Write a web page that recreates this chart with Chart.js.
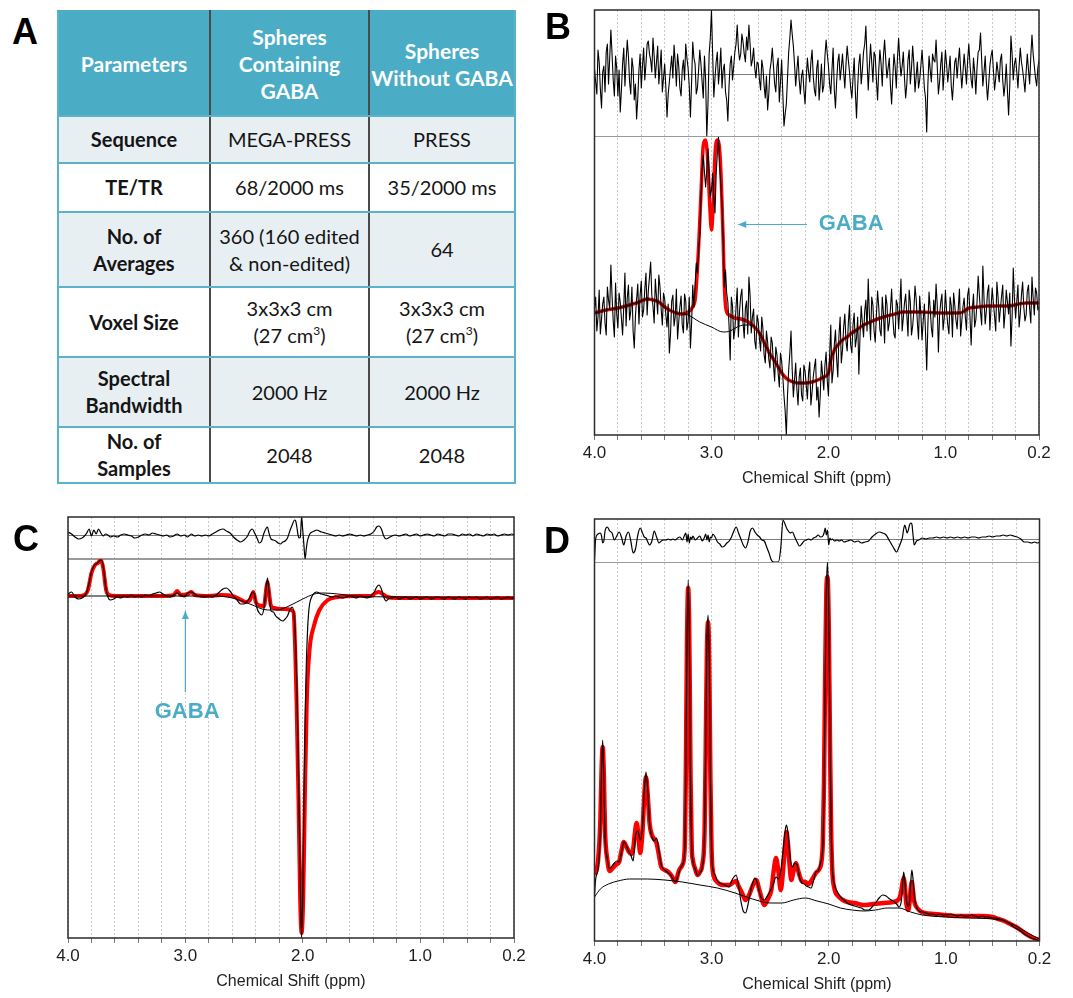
<!DOCTYPE html>
<html>
<head>
<meta charset="utf-8">
<title>GABA phantom spectra</title>
<script src="https://cdn.jsdelivr.net/npm/chart.js@4.4.1/dist/chart.umd.min.js"></script>
<style>
  body { margin: 0; width: 1073px; height: 998px; background: #fff; position: relative; overflow: hidden; }
  canvas { position: absolute; }
  .panel-lbl { position: absolute; z-index: 3; font: bold 36px "Liberation Sans", Arial, sans-serif; line-height: 36px; color: #000; }
  table.params { position: absolute; left: 57px; top: 10px; width: 457px; border-collapse: collapse; table-layout: fixed;
    font-family: Lato, "Open Sans", sans-serif; font-size: 20px; line-height: 27px; text-align: center; color: #151515; }
  .params th, .params td { border: 2px solid #5ab3cb; padding: 0; vertical-align: middle; }
  .params tr > *:nth-child(1), .params tr > *:nth-child(2) { border-right-color: #4a4a4a; }
  .params tr.head th { background: #4bacc6; color: #fff; white-space: nowrap; border-top-color: #4bacc6; font-size: 21px; }
  .params tr.shade th, .params tr.shade td { background: #e8eff3; }
  .params td { font-weight: normal; }
  .params sup { font-size: 12px; line-height: 0; vertical-align: 8px; }
</style>
</head>
<body>
<div class="panel-lbl" style="left:12px;top:14px">A</div>
<div class="panel-lbl" style="left:545px;top:9px">B</div>
<div class="panel-lbl" style="left:13px;top:521px">C</div>
<div class="panel-lbl" style="left:544px;top:523px">D</div>

<table class="params">
  <colgroup><col style="width:152px"><col style="width:159px"><col style="width:146px"></colgroup>
  <tr class="head" style="height:105px"><th>Parameters</th><th>Spheres<br>Containing<br>GABA</th><th>Spheres<br>Without GABA</th></tr>
  <tr class="shade" style="height:47px"><th>Sequence</th><td>MEGA-PRESS</td><td>PRESS</td></tr>
  <tr style="height:49px"><th>TE/TR</th><td>68/2000 ms</td><td>35/2000 ms</td></tr>
  <tr class="shade" style="height:75px"><th>No. of<br>Averages</th><td>360 (160 edited<br>&amp; non-edited)</td><td>64</td></tr>
  <tr style="height:70px"><th>Voxel Size</th><td>3x3x3 cm<br>(27 cm<sup>3</sup>)</td><td>3x3x3 cm<br>(27 cm<sup>3</sup>)</td></tr>
  <tr class="shade" style="height:70px"><th>Spectral<br>Bandwidth</th><td>2000 Hz</td><td>2000 Hz</td></tr>
  <tr style="height:56px"><th>No. of<br>Samples</th><td>2048</td><td>2048</td></tr>
</table>

<canvas id="chartB" width="543" height="490" style="left:530px;top:0px"></canvas>
<canvas id="chartC" width="530" height="498" style="left:0px;top:495px"></canvas>
<canvas id="chartD" width="543" height="501" style="left:530px;top:495px"></canvas>

<script>
// ---- B: edited spectrum, spheres containing GABA (MEGA-PRESS difference) ----
const bPpm = [
  4.00,3.99,3.98,3.97,3.96,3.95,3.94,3.93,3.92,3.91,3.90,3.89,3.88,3.87,3.86,3.85,3.84,3.83,3.82,3.81,
  3.80,3.79,3.78,3.77,3.76,3.75,3.74,3.73,3.72,3.71,3.70,3.69,3.68,3.67,3.66,3.65,3.64,3.63,3.62,3.61,
  3.60,3.59,3.58,3.57,3.56,3.55,3.54,3.53,3.52,3.51,3.50,3.49,3.48,3.47,3.46,3.45,3.44,3.43,3.42,3.41,
  3.40,3.39,3.38,3.37,3.36,3.35,3.34,3.33,3.32,3.31,3.30,3.29,3.28,3.27,3.26,3.25,3.24,3.23,3.22,3.21,
  3.20,3.19,3.18,3.17,3.16,3.15,3.14,3.13,3.12,3.11,3.10,3.09,3.08,3.07,3.06,3.05,3.04,3.03,3.02,3.01,
  3.00,2.99,2.98,2.97,2.96,2.95,2.94,2.93,2.92,2.91,2.90,2.89,2.88,2.87,2.86,2.85,2.84,2.83,2.82,2.81,
  2.80,2.79,2.78,2.77,2.76,2.75,2.74,2.73,2.72,2.71,2.70,2.69,2.68,2.67,2.66,2.65,2.64,2.63,2.62,2.61,
  2.60,2.59,2.58,2.57,2.56,2.55,2.54,2.53,2.52,2.51,2.50,2.49,2.48,2.47,2.46,2.45,2.44,2.43,2.42,2.41,
  2.40,2.39,2.38,2.37,2.36,2.35,2.34,2.33,2.32,2.31,2.30,2.29,2.28,2.27,2.26,2.25,2.24,2.23,2.22,2.21,
  2.20,2.19,2.18,2.17,2.16,2.15,2.14,2.13,2.12,2.11,2.10,2.09,2.08,2.07,2.06,2.05,2.04,2.03,2.02,2.01,
  2.00,1.99,1.98,1.97,1.96,1.95,1.94,1.93,1.92,1.91,1.90,1.89,1.88,1.87,1.86,1.85,1.84,1.83,1.82,1.81,
  1.80,1.79,1.78,1.77,1.76,1.75,1.74,1.73,1.72,1.71,1.70,1.69,1.68,1.67,1.66,1.65,1.64,1.63,1.62,1.61,
  1.60,1.59,1.58,1.57,1.56,1.55,1.54,1.53,1.52,1.51,1.50,1.49,1.48,1.47,1.46,1.45,1.44,1.43,1.42,1.41,
  1.40,1.39,1.38,1.37,1.36,1.35,1.34,1.33,1.32,1.31,1.30,1.29,1.28,1.27,1.26,1.25,1.24,1.23,1.22,1.21,
  1.20,1.19,1.18,1.17,1.16,1.15,1.14,1.13,1.12,1.11,1.10,1.09,1.08,1.07,1.06,1.05,1.04,1.03,1.02,1.01,
  1.00,0.99,0.98,0.97,0.96,0.95,0.94,0.93,0.92,0.91,0.90,0.89,0.88,0.87,0.86,0.85,0.84,0.83,0.82,0.81,
  0.80,0.79,0.78,0.77,0.76,0.75,0.74,0.73,0.72,0.71,0.70,0.69,0.68,0.67,0.66,0.65,0.64,0.63,0.62,0.61,
  0.60,0.59,0.58,0.57,0.56,0.55,0.54,0.53,0.52,0.51,0.50,0.49,0.48,0.47,0.46,0.45,0.44,0.43,0.42,0.41,
  0.40,0.39,0.38,0.37,0.36,0.35,0.34,0.33,0.32,0.31,0.30,0.29,0.28,0.27,0.26,0.25,0.24,0.23,0.22,0.21,
  0.20
];
const bData = [
  127,138,104,118,145,101,116,131,138,112,100,148,135,126,170,139,114,98,152,121,
  107,142,133,117,100,128,162,109,137,150,115,124,148,104,87,119,136,151,111,140,
  154,118,125,146,162,120,144,158,173,140,129,112,156,138,121,160,148,126,110,142,
  136,120,108,131,82,101,134,140,109,118,146,96,113,128,139,110,102,141,134,105,
  113,138,87,112,150,128,150,172,162,185,200,238,265,280,263,248,265,286,260,238,
  245,262,235,222,260,282,298,270,250,232,195,148,165,142,133,110,75,138,129,96,
  105,128,147,98,124,139,146,112,97,127,134,101,158,140,102,118,126,94,86,120,
  113,96,84,118,106,80,72,104,93,76,67,98,92,70,54,88,80,62,48,82,
  74,58,39,24,0,40,65,82,104,66,38,55,72,46,30,58,67,40,34,70,
  64,50,36,62,73,30,43,58,68,76,35,48,18,40,74,60,45,70,83,54,
  39,80,110,52,64,90,105,76,58,100,118,72,85,108,121,94,84,112,130,90,
  82,110,122,88,97,118,61,100,129,112,98,124,135,104,156,120,95,138,130,104,
  93,120,144,128,105,99,138,122,92,140,131,104,112,126,146,118,101,97,135,130,
  106,128,156,104,117,132,141,120,99,145,133,100,109,124,149,136,113,96,139,121,
  95,114,131,102,65,110,143,126,107,98,135,118,151,130,83,120,133,141,105,117,
  145,124,110,101,138,129,98,142,130,115,106,127,146,99,114,128,137,118,105,140,
  147,118,90,126,141,108,115,132,159,140,123,110,169,136,111,124,143,150,105,127,
  147,132,119,104,153,138,113,126,139,150,107,122,145,133,121,142,89,118,167,136,
  117,134,150,108,121,140,153,128,114,120,144,150,126,112,158,137,120,147,142,125,
  128
];
const bResid = [
  5,-8,-20,24,12,-15,-34,2,8,-18,22,30,-10,16,44,20,-6,-22,18,6,
  -22,4,-38,-16,10,26,-12,12,34,18,-8,-20,16,6,-26,-10,-45,-24,4,20,
  -14,8,26,-6,10,30,33,20,14,2,36,18,-4,12,28,-10,6,24,-18,-4,
  10,-14,-43,-20,-8,6,18,-4,29,12,-12,20,8,-14,-22,4,14,-6,30,16,
  6,-12,-43,-8,32,16,10,-20,-14,4,24,10,-8,-24,18,-6,-62,-30,20,36,
  64,20,-23,-4,12,22,-10,6,26,-14,4,10,-18,-26,-47,-12,10,18,-6,8,
  22,30,49,26,14,20,40,32,20,12,37,24,49,30,8,14,26,6,-4,12,
  10,-6,-16,14,6,-12,-24,-2,-36,-20,4,12,26,8,-10,-18,8,16,-28,-8,
  14,-20,-52,-40,-30,-4,22,36,54,40,28,10,-12,4,18,-6,-20,-2,4,-16,
  -30,-4,16,2,-8,12,24,-2,-16,-22,6,14,-26,-10,10,-18,-12,18,34,20,
  8,-10,-20,4,26,-16,-34,-8,12,20,-6,6,20,2,-14,10,28,14,2,-14,
  -24,-4,16,-18,-44,-12,10,20,-10,4,22,30,48,14,-16,8,30,12,-8,22,
  18,-6,-26,4,24,10,-12,18,34,14,-4,6,16,-12,-30,-4,20,8,-14,16,
  36,14,-2,8,22,-4,-24,-10,14,24,-10,6,28,10,-18,-2,12,-14,-6,8,
  24,6,-14,-24,-58,-10,18,4,-8,20,14,12,34,8,-20,-8,10,22,-16,2,
  24,10,-8,4,18,-12,-26,-6,12,16,-4,12,26,4,-14,2,20,6,-10,14,
  30,10,-6,-14,16,2,-20,6,22,24,41,14,-12,2,18,-8,-26,-10,8,18,
  24,4,-16,-4,12,2,-8,14,20,-6,-22,-10,10,-16,-41,-12,38,20,-6,10,
  16,2,-14,8,26,12,4,-6,-18,2,20,4,-10,18,39,20,8,-4,-12,6,
  14
];
const bFitPpm = [4.00,3.90,3.80,3.70,3.62,3.55,3.50,3.45,3.40,3.36,3.30,3.25,3.20,3.16,3.14,3.13,3.11,3.09,3.07,3.05,
  3.03,3.015,3.00,2.985,2.97,2.95,2.93,2.915,2.90,2.89,2.875,2.85,2.80,2.75,2.70,2.66,2.61,2.58,2.54,2.50,
  2.46,2.42,2.38,2.34,2.30,2.26,2.20,2.14,2.09,2.04,2.00,1.98,1.95,1.92,1.88,1.84,1.80,1.76,1.70,1.64,
  1.58,1.50,1.43,1.36,1.22,1.03,0.89,0.85,0.80,0.72,0.64,0.47,0.31,0.20];
const bFit = [122,125,127,130,133,136,135,133,128,125,122,121,123,128,135,148,188,240,290,295,
  270,230,205,230,280,295,285,250,195,150,125,120,117,116,114,111,105,100,90,81,
  74,66,59,55,53,52,52,53,55,58,62,75,85,90,95,98,102,105,110,113,
  116,119,121,123,123,122,122,123,127,128,129,129,132,132];
const bBasePpm = [4.00,3.90,3.80,3.70,3.62,3.55,3.50,3.45,3.40,3.36,3.30,3.25,3.20,3.10,3.00,2.90,2.84,2.78,2.72,2.66,
  2.61,2.58,2.54,2.50,2.46,2.42,2.38,2.34,2.30,2.26,2.20,2.14,2.09,2.04,2.00,1.98,1.95,1.92,1.88,1.84,
  1.80,1.76,1.70,1.64,1.58,1.50,1.43,1.36,1.22,1.03,0.89,0.85,0.80,0.72,0.64,0.47,0.31,0.20];
const bBase = [122,125,127,130,133,136,135,133,128,125,122,121,120,113,108,103,104,108,110,110,
  105,100,90,81,74,66,59,55,53,52,52,53,55,58,62,75,85,90,95,98,
  102,105,110,113,116,119,121,123,123,122,122,123,127,128,129,129,132,132];

// ---- C: edit-OFF spectrum, spheres containing GABA ----
const cPpm = [
  4.00,3.97,3.94,3.91,3.88,3.86,3.84,3.82,3.80,3.78,
  3.76,3.74,3.72,3.70,3.68,3.66,3.64,3.61,3.58,3.55,
  3.52,3.49,3.46,3.43,3.40,3.37,3.34,3.31,3.28,3.25,
  3.22,3.19,3.16,3.13,3.10,3.07,3.04,3.01,2.98,2.95,
  2.92,2.89,2.86,2.83,2.80,2.77,2.74,2.71,2.68,2.65,
  2.62,2.59,2.56,2.53,2.50,2.47,2.45,2.43,2.41,2.39,
  2.37,2.35,2.33,2.31,2.30,2.29,2.27,2.25,2.23,2.21,
  2.19,2.17,2.15,2.13,2.11,2.09,2.07,2.06,2.05,2.04,
  2.03,2.02,2.01,2.00,1.99,1.98,1.97,1.96,1.95,1.94,
  1.92,1.90,1.88,1.86,1.84,1.81,1.78,1.75,1.72,1.69,
  1.66,1.63,1.60,1.57,1.54,1.51,1.48,1.45,1.42,1.39,
  1.37,1.35,1.33,1.31,1.29,1.27,1.24,1.21,1.18,1.15,
  1.12,1.09,1.06,1.03,1.00,0.97,0.94,0.91,0.88,0.85,
  0.82,0.79,0.76,0.73,0.70,0.67,0.64,0.61,0.58,0.55,
  0.52,0.49,0.46,0.43,0.40,0.37,0.34,0.31,0.28,0.25,
  0.22,0.20
];
const cData = [
  344,346,341,339,340,342,346,355,366,372,
  374,376,378,372,352,341,338,339,341,340,
  342,341,343,341,342,341,343,342,344,345,
  346,344,342,341,343,345,343,341,345,346,
  344,342,341,341,342,341,343,346,349,350,
  347,342,338,334,334,337,341,346,343,330,
  325,323,330,352,360,350,327,326,322,320,
  318,317,319,322,328,331,318,290,250,190,
  120,50,0,40,130,215,270,305,325,335,
  342,345,346,345,344,343,342,341,342,341,
  340,341,342,341,340,342,341,340,342,346,
  351,353,349,341,337,339,340,341,339,340,
  341,339,340,341,339,340,341,339,340,341,
  340,339,341,340,339,341,340,339,341,340,
  341,339,340,341,339,340,341,339,340,341,
  340,340
];
const cResid = [
  3,1,-2,-4,-3,-1,2,6,-1,5,
  1,6,2,-1,1,0,-2,-1,-2,0,
  1,0,-1,-3,-2,0,1,0,2,1,
  0,-1,0,-2,-1,1,-1,0,-2,1,
  -1,0,-1,0,-1,1,3,5,6,4,
  2,-2,-5,-7,-5,-1,4,6,2,-3,
  -8,-6,2,7,8,3,-4,-5,-6,-8,
  -9,-7,-6,-3,4,10,15,14,8,0,
  -3,-2,18,5,-10,-24,-14,-6,-2,1,
  3,4,5,4,3,2,1,0,-1,0,
  -1,0,1,0,-1,0,-1,0,1,4,
  8,9,6,-1,-4,-3,-1,0,-1,0,
  1,-1,0,1,-1,0,1,0,-1,1,
  0,-1,1,1,0,-1,1,0,1,-1,
  1,0,-1,1,0,1,-1,0,1,0,
  1,0
];
const cFitPpm = [4.00,3.90,3.86,3.83,3.80,3.77,3.745,3.72,3.70,3.675,3.65,3.60,3.40,3.20,3.10,3.07,3.04,2.98,2.95,2.92,
  2.80,2.70,2.60,2.54,2.48,2.45,2.42,2.40,2.38,2.33,2.31,2.30,2.29,2.27,2.24,2.20,2.15,2.10,2.08,2.075,
  2.053,2.036,2.022,2.01,1.996,1.982,1.965,1.942,1.905,1.858,1.787,1.70,1.55,1.42,1.38,1.35,1.32,1.28,1.20,0.80,0.20];
const cFit = [342,342,343,348,365,373,375,378,370,348,343,342,342,342,343,347,343,344,346,343,
  342,343,342,339,336,338,346,336,333,332,350,356,348,332,330,329,329,328,326,322,
  238,138,38,5,38,138,238,288,312,328,338,341,342,342,345,346,344,341,340,340,340];
const cBasePpm = [4.00,3.00,2.75,2.60,2.45,2.30,2.22,2.10,2.00,1.90,1.82,1.70,1.55,1.20,0.20];
const cBase = [342,342,342,340,334,328,328,333,339,344,345,344,342,341,340];

// ---- D: PRESS spectrum, spheres without GABA ----
const dPpm = [
  4.00,3.99,3.97,3.95,3.94,3.93,3.92,3.91,3.89,3.87,
  3.85,3.83,3.81,3.79,3.77,3.75,3.73,3.71,3.69,3.67,
  3.65,3.63,3.61,3.59,3.575,3.56,3.545,3.53,3.51,3.49,
  3.47,3.45,3.43,3.41,3.39,3.37,3.35,3.33,3.31,3.29,
  3.27,3.25,3.23,3.22,3.21,3.20,3.19,3.18,3.17,3.16,
  3.14,3.12,3.10,3.08,3.06,3.05,3.04,3.03,3.02,3.01,
  3.00,2.99,2.97,2.95,2.93,2.91,2.89,2.87,2.85,2.83,
  2.81,2.79,2.77,2.75,2.73,2.71,2.69,2.67,2.65,2.63,
  2.61,2.59,2.57,2.55,2.53,2.51,2.49,2.47,2.45,2.43,
  2.41,2.39,2.37,2.36,2.35,2.33,2.31,2.29,2.27,2.25,
  2.23,2.21,2.19,2.17,2.15,2.13,2.11,2.09,2.07,2.05,
  2.04,2.03,2.02,2.01,2.00,1.99,1.98,1.97,1.95,1.93,
  1.91,1.89,1.87,1.84,1.81,1.78,1.75,1.72,1.69,1.66,
  1.63,1.60,1.57,1.54,1.51,1.48,1.45,1.42,1.40,1.38,
  1.37,1.36,1.35,1.34,1.33,1.32,1.31,1.30,1.29,1.28,
  1.27,1.25,1.23,1.20,1.17,1.14,1.11,1.08,1.05,1.02,
  0.99,0.96,0.93,0.90,0.87,0.84,0.81,0.78,0.75,0.72,
  0.69,0.66,0.63,0.60,0.57,0.54,0.51,0.48,0.45,0.42,
  0.39,0.36,0.33,0.30,0.27,0.24,0.22,0.20
];
const dData = [
  46,62,72,110,170,201,160,105,82,72,
  75,78,80,79,88,99,96,90,86,80,
  105,110,101,115,150,169,150,118,104,100,
  103,90,76,72,70,68,66,62,59,64,
  72,76,90,170,300,361,300,160,95,80,
  72,66,68,74,110,200,300,326,280,160,
  90,72,66,60,58,57,56,55,54,60,
  64,66,55,40,30,28,36,48,58,63,
  58,48,42,41,44,48,52,58,64,62,
  70,90,112,116,110,84,74,78,76,64,
  58,57,55,54,53,60,69,70,78,95,
  150,260,350,379,330,220,120,75,56,50,
  46,43,41,38,36,35,34,33,31,31,
  34,38,43,46,45,42,40,37,34,40,
  55,69,60,45,36,34,40,58,71,62,
  45,34,30,29,28,27,27,26,27,26,
  26,27,26,25,26,25,25,26,25,24,
  25,24,24,23,23,22,21,19,17,14,
  12,10,7,5,3,2,1,0
];
const dResid = [
  -21,0,5,6,3,-4,-2,8,12,8,
  6,-1,3,7,2,-6,3,7,-2,-14,
  -10,4,11,6,2,1,-3,-6,-2,8,
  2,-4,-2,-1,-1,0,-1,0,-1,1,
  2,-1,4,6,-3,5,-4,2,0,3,
  -1,1,3,-2,2,5,-1,4,-3,2,
  1,5,2,-3,-5,-8,-7,-4,-2,2,
  8,12,6,0,-6,-9,-3,8,11,7,
  4,2,-1,-2,-8,-14,-21,-23,-23,-23,
  -10,19,14,11,9,6,7,2,-3,-7,
  -5,-2,-1,0,-1,1,2,4,2,3,
  6,11,4,9,-6,1,-1,0,-2,-1,
  -2,-1,-3,-2,-1,-3,-2,-4,-3,-2,
  2,5,7,6,4,-2,-8,-13,-8,-2,
  2,10,14,10,6,9,14,16,15,4,
  -6,-2,-1,1,0,1,1,2,1,2,
  1,2,1,2,1,2,1,2,2,1,
  2,2,3,2,3,3,4,3,4,3,
  2,0,-3,-3,-4,-3,-4,-3
];
const dFitPpm = [4.00,3.97,3.95,3.94,3.93,3.92,3.91,3.89,3.87,3.85,
  3.82,3.79,3.77,3.75,3.73,3.71,3.69,3.67,3.655,3.64,
  3.625,3.61,3.59,3.575,3.56,3.545,3.53,3.51,3.49,3.47,
  3.45,3.43,3.40,3.37,3.34,3.31,3.28,3.25,3.23,3.22,
  3.21,3.20,3.19,3.18,3.17,3.16,3.14,3.12,3.10,3.08,
  3.06,3.05,3.04,3.03,3.02,3.01,3.00,2.99,2.96,2.90,
  2.85,2.81,2.79,2.77,2.74,2.71,2.68,2.65,2.62,2.59,
  2.55,2.52,2.49,2.47,2.45,2.43,2.41,2.39,2.37,2.36,
  2.35,2.33,2.32,2.30,2.28,2.26,2.23,2.20,2.17,2.14,
  2.11,2.08,2.06,2.05,2.04,2.03,2.02,2.01,2.00,1.99,
  1.98,1.97,1.95,1.92,1.88,1.84,1.78,1.70,1.62,1.53,
  1.45,1.40,1.38,1.37,1.36,1.35,1.34,1.33,1.32,1.31,
  1.30,1.29,1.28,1.27,1.25,1.22,1.18,1.10,1.00,0.90,
  0.80,0.70,0.60,0.55,0.50,0.45,0.40,0.35,0.30,0.25,
  0.20];
const dFit = [66,80,120,170,194,165,110,81,70,72,
  76,79,90,99,95,90,87,92,108,118,
  105,88,110,145,164,145,118,106,102,98,
  86,74,71,69,65,59,70,76,92,170,
  300,353,300,165,95,81,72,66,69,76,
  110,195,290,319,275,160,90,70,60,56,
  56,59,60,55,48,41,46,55,61,50,
  36,42,51,70,83,70,51,70,100,109,
  100,70,61,70,78,70,60,59,57,62,
  68,72,81,100,160,270,350,364,320,210,
  115,72,52,45,41,39,38,36,37,38,
  39,42,50,58,63,55,40,33,31,38,
  52,59,50,40,34,30,28,27,26,25,
  25,25,24,22,20,17,14,10,6,3,
  1];
const dBasePpm = [4.00,3.95,3.88,3.80,3.70,3.55,3.40,3.25,3.10,2.95,2.80,2.65,2.50,2.40,2.30,2.20,2.10,2.00,1.90,1.80,
  1.70,1.60,1.50,1.40,1.30,1.20,1.00,0.80,0.60,0.50,0.40,0.30,0.20];
const dBase = [44,52,57,60,62,62,61,59,56,53,48,42,38,38,41,43,40,37,33,31,
  30,31,33,33,29,26,24,23,22,20,15,8,2];

const xLabels = [4.0, 3.0, 2.0, 1.0, 0.2];
const FONT = '"Liberation Sans", Arial, Helvetica, sans-serif';
const GABA_BLUE = '#4bacc6';

function pts(xs, ys) {
  return xs.map((x, i) => ({ x: x, y: ys[i] }));
}

// frame around the plot area, plus the optional GABA arrow + label
function framePlugin(note) {
  return {
    id: 'spectrumFrame',
    afterDatasetsDraw(chart) {
      const { ctx, chartArea: a, scales } = chart;
      ctx.save();
      ctx.strokeStyle = '#2b2b2b';
      ctx.lineWidth = 1.5;
      ctx.strokeRect(a.left, a.top, a.right - a.left, a.bottom - a.top);
      if (note) {
        const x = scales.x, y = scales.y;
        const x0 = x.getPixelForValue(note.from[0]), y0 = y.getPixelForValue(note.from[1]);
        const x1 = x.getPixelForValue(note.to[0]), y1 = y.getPixelForValue(note.to[1]);
        ctx.strokeStyle = GABA_BLUE;
        ctx.fillStyle = GABA_BLUE;
        ctx.lineWidth = 1.2;
        ctx.beginPath(); ctx.moveTo(x0, y0); ctx.lineTo(x1, y1); ctx.stroke();
        const ang = Math.atan2(y1 - y0, x1 - x0);
        const len = 8, half = 3.5;
        ctx.beginPath();
        ctx.moveTo(x1, y1);
        ctx.lineTo(x1 - len * Math.cos(ang) + half * Math.sin(ang), y1 - len * Math.sin(ang) - half * Math.cos(ang));
        ctx.lineTo(x1 - len * Math.cos(ang) - half * Math.sin(ang), y1 - len * Math.sin(ang) + half * Math.cos(ang));
        ctx.closePath();
        ctx.fill();
        ctx.font = 'bold 22px ' + FONT;
        ctx.textAlign = note.align;
        ctx.textBaseline = 'middle';
        ctx.fillText('GABA', x.getPixelForValue(note.text[0]), y.getPixelForValue(note.text[1]));
      }
      ctx.restore();
    }
  };
}

function drawSpectrum(id, s) {
  const dataMode = s.smooth ? 'monotone' : 'default';
  return new Chart(document.getElementById(id), {
    type: 'line',
    data: {
      datasets: [
        { label: 'data', data: pts(s.ppm, s.data), borderColor: '#000', borderWidth: s.dataWidth, yAxisID: 'y', cubicInterpolationMode: dataMode },
        { label: 'residual', data: pts(s.ppm, s.resid), borderColor: '#000', borderWidth: s.dataWidth, yAxisID: 'yRes', cubicInterpolationMode: dataMode },
        { label: 'baseline', data: pts(s.basePpm, s.base), borderColor: '#000', borderWidth: 1, yAxisID: 'y', cubicInterpolationMode: 'monotone' },
        { label: 'fit', data: pts(s.fitPpm, s.fit), borderColor: '#ff0000', borderWidth: s.fitWidth, yAxisID: 'y', cubicInterpolationMode: 'monotone' }
      ]
    },
    options: {
      responsive: false,
      animation: false,
      events: [],
      layout: { padding: s.pad },
      elements: { point: { radius: 0 }, line: { fill: false, borderJoinStyle: 'round' } },
      plugins: { legend: { display: false }, tooltip: { enabled: false } },
      scales: {
        x: {
          type: 'linear', reverse: true, min: 0.2, max: 4.0,
          afterFit: function (scale) { scale.height = 55; },
          ticks: {
            stepSize: 0.2, autoSkip: false, maxRotation: 0, padding: 3, color: '#1e1e1e',
            font: { family: FONT, size: 17 },
            callback: function (v) {
              const r = Math.round(v * 10) / 10;
              return xLabels.includes(r) ? r.toFixed(1) : '';
            }
          },
          grid: { color: '#c9c9c9', lineWidth: 1, drawTicks: true, tickLength: 5, tickColor: '#777', tickWidth: 1 },
          border: { display: false, dash: [2, 2] },
          title: { display: true, text: 'Chemical Shift (ppm)', color: '#222', font: { family: FONT, size: 16 }, padding: { top: 0, bottom: 2 } }
        },
        y: {
          stack: 'spectrum', stackWeight: s.mainTop, min: 0, max: s.mainTop,
          ticks: { display: false }, grid: { display: false }, border: { display: false }
        },
        yRes: {
          stack: 'spectrum', stackWeight: s.resMax - s.resMin, min: s.resMin, max: s.resMax,
          afterBuildTicks: function (scale) { scale.ticks = [{ value: s.resMin }, { value: 0 }]; },
          ticks: { display: false },
          grid: {
            drawTicks: false,
            color: c => (c.tick && c.tick.value === 0) ? '#7c7c7c' : '#9a9a9a',
            lineWidth: c => (c.tick && c.tick.value === 0) ? 1 : s.sepWidth
          },
          border: { display: false }
        }
      }
    },
    plugins: [framePlugin(s.note)]
  });
}

drawSpectrum('chartB', {
  ppm: bPpm, data: bData, resid: bResid,
  fitPpm: bFitPpm, fit: bFit, basePpm: bBasePpm, base: bBase,
  mainTop: 298.5, resMin: -62.5, resMax: 64,
  smooth: false, dataWidth: 1.1, fitWidth: 3.5, sepWidth: 1,
  pad: { left: 56.5, right: 34, top: 10, bottom: 0 },
  note: { from: [2.184, 210.5], to: [2.771, 210.5], text: [2.083, 211], align: 'left' }
});

drawSpectrum('chartC', {
  ppm: cPpm, data: cData, resid: cResid,
  fitPpm: cFitPpm, fit: cFit, basePpm: cBasePpm, base: cBase,
  mainTop: 379, resMin: -24, resMax: 18,
  smooth: true, dataWidth: 1.2, fitWidth: 4, sepWidth: 2,
  pad: { left: 60, right: 16, top: 22, bottom: 0 },
  note: { from: [3.0, 246], to: [3.0, 327], text: [2.985, 226], align: 'center' }
});

drawSpectrum('chartD', {
  ppm: dPpm, data: dData, resid: dResid,
  fitPpm: dFitPpm, fit: dFit, basePpm: dBasePpm, base: dBase,
  mainTop: 379, resMin: -23, resMax: 20,
  smooth: true, dataWidth: 1.2, fitWidth: 4.5, sepWidth: 1,
  pad: { left: 56.5, right: 33.5, top: 24, bottom: 0 },
  note: null
});
</script>
</body>
</html>
